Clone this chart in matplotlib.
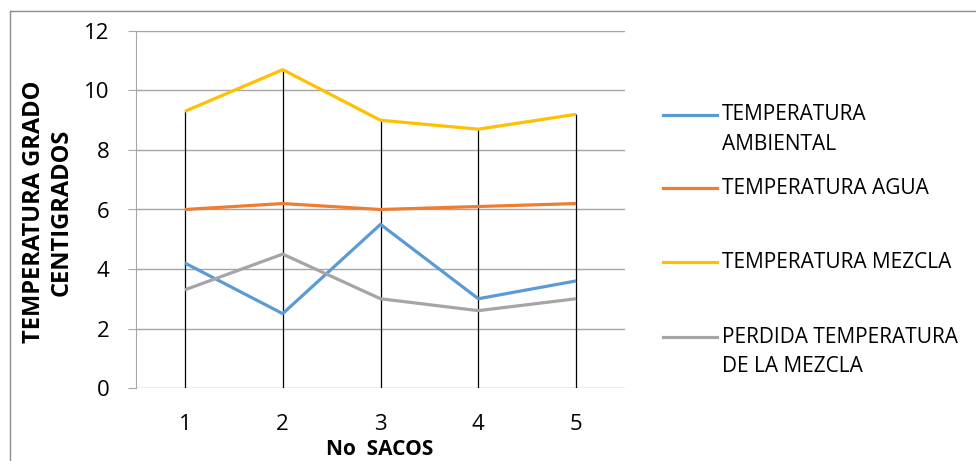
import matplotlib.pyplot as plt
from matplotlib.lines import Line2D

sacos = [1, 2, 3, 4, 5]
temp_ambiental = [4.2, 2.5, 5.5, 3.0, 3.6]
temp_agua = [6.0, 6.2, 6.0, 6.1, 6.2]
temp_mezcla = [9.3, 10.7, 9.0, 8.7, 9.2]
perdida_mezcla = [3.3, 4.5, 3.0, 2.6, 3.0]

series = [
    (["TEMPERATURA", "AMBIENTAL"], temp_ambiental, "#5b9bd5"),
    (["TEMPERATURA AGUA"], temp_agua, "#ed7d31"),
    (["TEMPERATURA MEZCLA"], temp_mezcla, "#ffc000"),
    (["PERDIDA TEMPERATURA", "DE LA MEZCLA"], perdida_mezcla, "#a5a5a5"),
]

plt.rcParams["font.family"] = ["Open Sans", "DejaVu Sans"]

W, H = 976, 461
fig = plt.figure(figsize=(W / 100, H / 100), dpi=100)
ax = fig.add_axes([136 / W, 1 - 388 / H, (625 - 136) / W, (388 - 31) / H])

# outer chart border (only top and left visible)
fig.add_artist(Line2D([9.5 / W, 9.5 / W], [0, 1 - 11 / H], color="#8c8c8c", lw=1))
fig.add_artist(Line2D([9.5 / W, 1], [1 - 11 / H, 1 - 11 / H], color="#8c8c8c", lw=1))

# drop lines
tops = [max(v) for v in zip(*[s[1] for s in series])]
ax.vlines(sacos, 0, tops, color="black", lw=0.9, zorder=2)

for label, vals, col in series:
    ax.plot(sacos, vals, color=col, lw=2.3, solid_capstyle="butt", zorder=3)

ax.set_xlim(0.5, 5.5)
ax.set_ylim(0, 12)
ax.set_yticks(range(0, 13, 2))
ax.set_xticks(sacos)
ax.grid(axis="y", color="#a6a6a6", lw=1)
ax.set_axisbelow(True)
for s in ["top", "right", "bottom"]:
    ax.spines[s].set_visible(False)
ax.spines["left"].set_color("#a6a6a6")
ax.tick_params(axis="y", length=6, color="#a6a6a6", labelsize=16, pad=13)
ax.tick_params(axis="x", length=0, labelsize=16, pad=19)

fig.text(380 / W, 1 - 449 / H, "No  SACOS", ha="center", va="center",
         fontsize=15, fontweight="bold")
fig.text(48 / W, 1 - 212 / H, "TEMPERATURA GRADO\nCENTIGRADOS", rotation=90,
         ha="center", va="center", fontsize=17, fontweight="bold",
         multialignment="center", linespacing=1.2)

# legend
leg_y = [115, 188, 262, 337]
for (lines, vals, col), y in zip(series, leg_y):
    yf = 1 - y / H
    fig.add_artist(Line2D([663 / W, 717 / W], [yf, yf], color=col, lw=2.3))
    for i, txt in enumerate(lines):
        fig.text(722 / W, 1 - (y + 29 * i) / H, txt, ha="left", va="center",
                 fontsize=15)

fig.savefig("out.png", dpi=100)
